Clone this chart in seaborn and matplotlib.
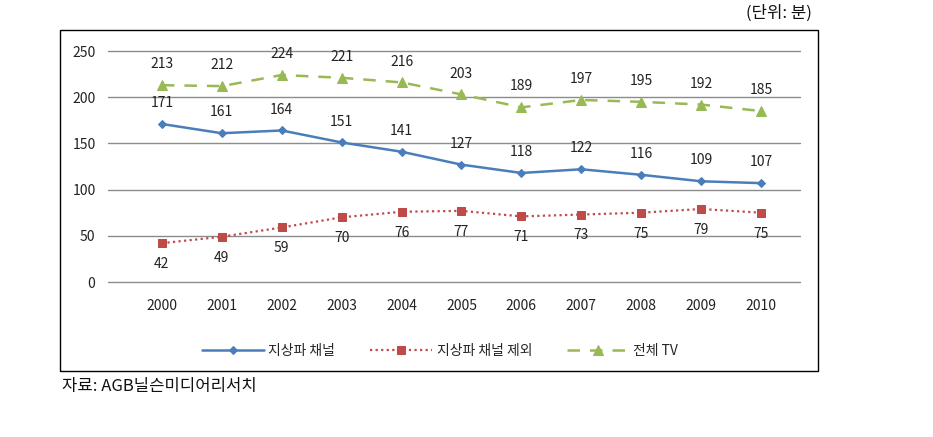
import matplotlib
matplotlib.use("Agg")
import matplotlib.pyplot as plt
import seaborn as sns
import pandas as pd
from matplotlib.patches import Rectangle

years = ["2000", "2001", "2002", "2003", "2004", "2005", "2006", "2007", "2008", "2009", "2010"]
terrestrial = [171, 161, 164, 151, 141, 127, 118, 122, 116, 109, 107]
non_terrestrial = [42, 49, 59, 70, 76, 77, 71, 73, 75, 79, 75]
total_tv = [213, 212, 224, 221, 216, 203, 189, 197, 195, 192, 185]
series_names = ["지상파 채널", "지상파 채널 제외", "전체 TV"]
y_ticks = [0, 50, 100, 150, 200, 250]

sns.set_theme(style="white")
plt.rcParams['font.family'] = ['Noto Sans CJK KR', 'DejaVu Sans']

fig = plt.figure(figsize=(9.33, 4.37), dpi=100)
W, H = 933, 437
ax = fig.add_axes([108 / W, 1 - 282 / H, (800 - 108) / W, (282 - 51) / H])
ax.patch.set_alpha(0)

# outer frame
fig.patches.append(Rectangle((60 / W, 1 - 371 / H), (818 - 60) / W, (371 - 30) / H,
                             transform=fig.transFigure, fill=False, edgecolor="black",
                             linewidth=1.0, zorder=0))

x = list(range(len(years)))
df = pd.DataFrame({"x": x, "t": terrestrial, "n": non_terrestrial, "a": total_tv})

blue = "#4A7EBB"
red = "#BE4B48"
green = "#98B954"

sns.lineplot(data=df, x="x", y="t", ax=ax, color=blue, linewidth=1.8, marker="D",
             markersize=4, markeredgecolor=blue, label=series_names[0])
sns.lineplot(data=df, x="x", y="n", ax=ax, color=red, linewidth=1.6, linestyle=(0, (1, 1.5)),
             marker="s", markersize=6, markeredgecolor=red, label=series_names[1])
sns.lineplot(data=df, x="x", y="a", ax=ax, color=green, linewidth=1.8, linestyle=(0, (5, 4)),
             marker="^", markersize=7, markeredgecolor=green, label=series_names[2])

for xi, v in zip(x, terrestrial):
    ax.annotate(str(v), (xi, v), xytext=(0, 10), textcoords="offset points",
                ha="center", va="bottom", fontsize=10, color="#222222")
for xi, v in zip(x, total_tv):
    ax.annotate(str(v), (xi, v), xytext=(0, 10), textcoords="offset points",
                ha="center", va="bottom", fontsize=10, color="#222222")
for xi, v in zip(x, non_terrestrial):
    ax.annotate(str(v), (xi, v), xytext=(0, -10), textcoords="offset points",
                ha="center", va="top", fontsize=10, color="#222222")

ax.set_xlim(-0.9, 10.65)
ax.set_ylim(0, 250)
ax.set_yticks(y_ticks)
ax.set_yticklabels([str(t) for t in y_ticks], fontsize=10, color="#222222")
ax.set_xticks(x)
ax.set_xticklabels(years, fontsize=10, color="#222222")
ax.tick_params(axis="x", length=0, pad=12)
ax.tick_params(axis="y", length=0, pad=9)
ax.yaxis.grid(True, color="#8C8C8C", linewidth=1.0)
for gl in ax.get_ygridlines():
    gl.set_clip_on(False)
ax.xaxis.grid(False)
for s in ax.spines.values():
    s.set_visible(False)
ax.set_xlabel("")
ax.set_ylabel("")

handles, labels = ax.get_legend_handles_labels()
ax.legend(handles, labels, loc="center", bbox_to_anchor=(440 / W, 1 - 351 / H),
          bbox_transform=fig.transFigure, ncol=3, frameon=False, fontsize=10,
          handlelength=4.5, columnspacing=2.5, handletextpad=0.3)

fig.text(812 / W, 1 - 13 / H, "(단위: 분)", ha="right", va="center", fontsize=12, color="#111111")
fig.text(62 / W, 1 - 387 / H, "자료: AGB닐슨미디어리서치", ha="left", va="center", fontsize=12, color="#111111")

fig.savefig("out.png", dpi=100)
